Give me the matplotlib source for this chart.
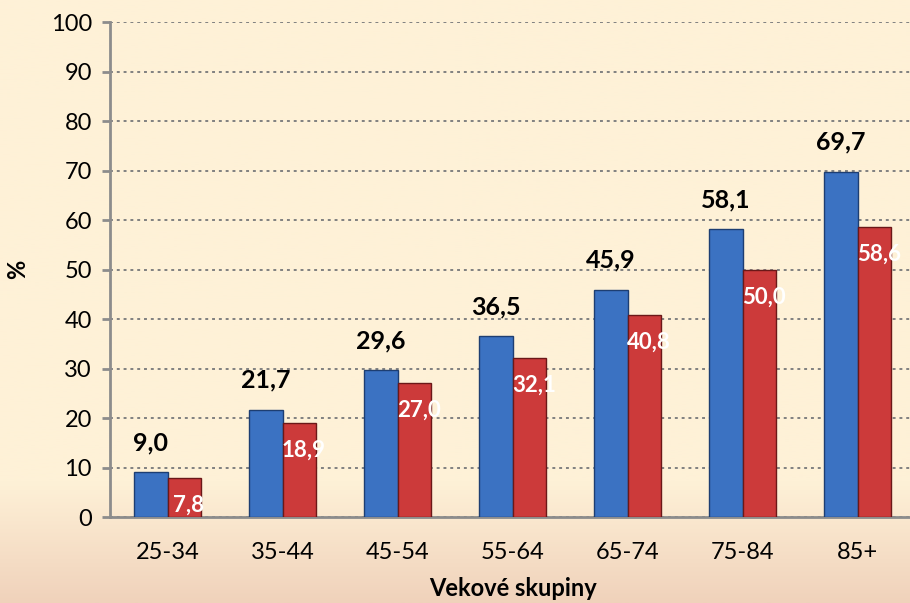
import numpy as np
import matplotlib.pyplot as plt
from matplotlib.colors import LinearSegmentedColormap

# Data
groups = ["25-34", "35-44", "45-54", "55-64", "65-74", "75-84", "85+"]
men = [9.0, 21.7, 29.6, 36.5, 45.9, 58.1, 69.7]
women = [7.8, 18.9, 27.0, 32.1, 40.8, 50.0, 58.6]

plt.rcParams['font.family'] = ['Lato', 'DejaVu Sans']

fig = plt.figure(figsize=(9.1, 6.03), dpi=100)
fig.patch.set_facecolor("#FEF1D7")

# slide-like background gradient (cream to peach at the bottom)
bg = fig.add_axes([0, 0, 1, 1], zorder=-10)
bg.axis("off")
rows = np.linspace(0, 1, 300)
grad = np.clip((rows - 0.80) / 0.20, 0, 1)[:, None]
cmap = LinearSegmentedColormap.from_list("bg", ["#FEF1D7", "#F0D2BB"])
bg.imshow(grad, aspect="auto", cmap=cmap, extent=[0, 1, 1, 0], vmin=0, vmax=1)
bg.set_xlim(0, 1)
bg.set_ylim(1, 0)

ax = fig.add_axes([0.1209, 0.1426, 0.8846, 0.8209])
ax.set_facecolor("none")

x = np.arange(len(groups))
w = 0.29
ax.bar(x - w / 2, men, w, color="#3B72C2", edgecolor="#1D3E72", linewidth=1, zorder=3)
ax.bar(x + w / 2, women, w, color="#CC3A3A", edgecolor="#6B1818", linewidth=1, zorder=3)

for xi, v in zip(x, men):
    ax.text(xi - w / 2, v + 6, f"{v:.1f}".replace(".", ","), ha="center", va="center",
            fontsize=18, fontweight="bold", color="black", zorder=4)
for xi, v in zip(x, women):
    ax.text(xi + w / 2 + 0.04, max(v - 5.5, 2.4), f"{v:.1f}".replace(".", ","), ha="center",
            va="center", fontsize=16, fontweight="bold", color="white", zorder=4)

ax.set_xlim(-0.5, len(groups) - 0.5)
ax.set_ylim(0, 100)
ax.set_yticks(range(0, 101, 10))
ax.set_xticks(x)
ax.set_xticklabels(groups)
ax.yaxis.grid(True, linestyle=(0, (1.5, 2)), color="#808080", linewidth=1.4, zorder=0)
ax.set_axisbelow(True)

for s in ["top", "right"]:
    ax.spines[s].set_visible(False)
for s in ["left", "bottom"]:
    ax.spines[s].set_color("#8C8C8C")
    ax.spines[s].set_linewidth(2)

ax.tick_params(axis="y", length=6, width=2, color="#8C8C8C", pad=7, labelsize=17)
ax.tick_params(axis="x", length=0, pad=18, labelsize=17)

ax.set_xlabel("Vekové skupiny", fontsize=17, fontweight="bold", labelpad=10)
ax.set_ylabel("%", fontsize=17, fontweight="bold")
ax.yaxis.set_label_coords(-0.100, 0.5)

fig.savefig("out.png", dpi=100)
